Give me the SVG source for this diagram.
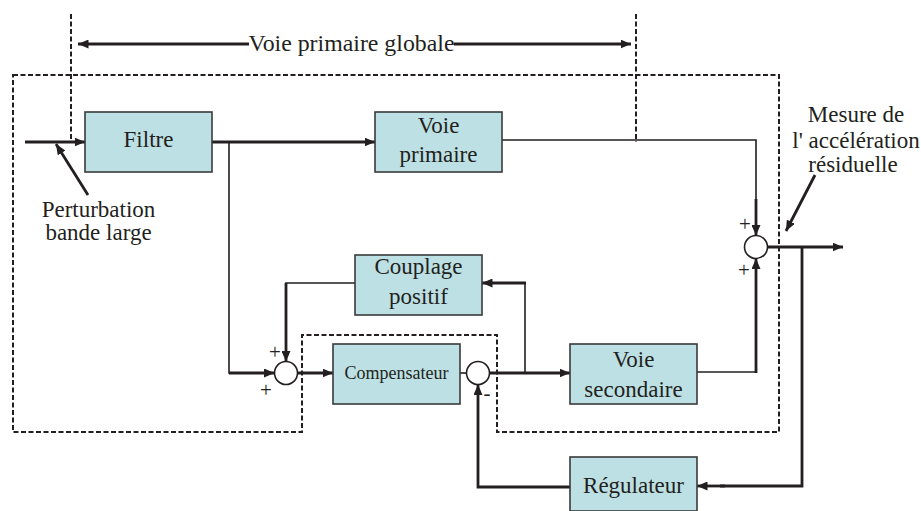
<svg xmlns="http://www.w3.org/2000/svg" width="921" height="511" viewBox="0 0 921 511">
  <defs>
    <marker id="arrow" markerUnits="userSpaceOnUse" markerWidth="11" markerHeight="9" refX="10.5" refY="4.5" orient="auto">
      <path d="M0,0 L10.5,4.5 L0,9 z" fill="#231f20"/>
    </marker>
    <style>
      .box { fill: #bce0e3; stroke: #3a3a3a; stroke-width: 1.6; }
      .lbl { font-family: "Liberation Serif", "Times New Roman", serif; font-size: 23px; fill: #231f20; text-anchor: middle; }
      .small { font-size: 18px; }
      .sign { font-family: "Liberation Serif", "Times New Roman", serif; font-size: 21px; fill: #231f20; text-anchor: middle; }
      .thin { fill: none; stroke: #231f20; stroke-width: 1.6; }
      .thick { fill: none; stroke: #231f20; stroke-width: 2.8; }
      .dash { fill: none; stroke: #231f20; stroke-width: 2; stroke-dasharray: 5 2.5; }
      .sum { fill: #ffffff; stroke: #231f20; stroke-width: 1.6; }
    </style>
  </defs>
  <rect width="921" height="511" fill="#ffffff"/>

  <!-- dashed boundaries -->
  <g id="boundaries">
    <line class="dash" x1="71" y1="14" x2="71" y2="142"/>
    <line class="dash" x1="636" y1="14" x2="636" y2="142"/>
    <path class="dash" d="M13,75 H779 V432 H497 V335 H302 V432 H13 Z"/>
  </g>

  <!-- global primary path span -->
  <g id="span">
    <line class="thick" x1="249" y1="44" x2="78" y2="44" marker-end="url(#arrow)"/>
    <line class="thick" x1="454" y1="44" x2="631" y2="44" marker-end="url(#arrow)"/>
    <text class="lbl" x="351.5" y="51" textLength="206" lengthAdjust="spacingAndGlyphs">Voie primaire globale</text>
  </g>

  <!-- connectors -->
  <g id="connectors">
    <line class="thick" x1="25" y1="142" x2="85" y2="142" marker-end="url(#arrow)"/>
    <line class="thick" x1="88" y1="195" x2="56" y2="144" marker-end="url(#arrow)"/>
    <line class="thick" x1="212" y1="142" x2="375" y2="142" marker-end="url(#arrow)"/>
    <polyline class="thin" points="229,142 229,373 250,373"/>
    <line class="thick" x1="229" y1="373" x2="274.5" y2="373" marker-end="url(#arrow)"/>
    <polyline class="thin" points="502,140 756,140 756,200"/>
    <line class="thick" x1="756" y1="199" x2="756" y2="235.5" marker-end="url(#arrow)"/>
    <polyline class="thin" points="697,372 756,372"/>
    <line class="thick" x1="756" y1="373" x2="756" y2="258.5" marker-end="url(#arrow)"/>
    <line class="thick" x1="767.5" y1="247" x2="843" y2="247" marker-end="url(#arrow)"/>
    <polyline class="thick" points="802,247 802,486 720,486"/>
    <line class="thick" x1="725" y1="486" x2="697" y2="486" marker-end="url(#arrow)"/>
    <line class="thick" x1="815" y1="175" x2="786" y2="231" marker-end="url(#arrow)"/>
    <polyline class="thick" points="570,487 478,487 478,384.5" marker-end="url(#arrow)"/>
    <line class="thin" x1="460" y1="373" x2="466.5" y2="373"/>
    <line class="thick" x1="489.5" y1="373" x2="570" y2="373" marker-end="url(#arrow)"/>
    <polyline class="thin" points="525,373 525,283"/>
    <line class="thick" x1="526" y1="283" x2="482" y2="283" marker-end="url(#arrow)"/>
    <polyline class="thin" points="355,283 286,283 286,300"/>
    <line class="thick" x1="286" y1="283" x2="286" y2="361.5" marker-end="url(#arrow)"/>
    <line class="thick" x1="297.5" y1="373" x2="333" y2="373" marker-end="url(#arrow)"/>
  </g>

  <!-- blocks -->
  <g id="filtre">
    <rect class="box" x="85" y="112" width="127" height="60"/>
    <text class="lbl" x="148.5" y="147">Filtre</text>
  </g>
  <g id="voie-primaire">
    <rect class="box" x="375" y="112" width="127" height="60"/>
    <text class="lbl" x="438.5" y="133">Voie</text>
    <text class="lbl" x="438.5" y="162">primaire</text>
  </g>
  <g id="couplage">
    <rect class="box" x="355" y="255" width="127" height="60"/>
    <text class="lbl" x="418.5" y="274">Couplage</text>
    <text class="lbl" x="418.5" y="304">positif</text>
  </g>
  <g id="compensateur">
    <rect class="box" x="333" y="344" width="127" height="60"/>
    <text class="lbl small" x="396.5" y="379">Compensateur</text>
  </g>
  <g id="voie-secondaire">
    <rect class="box" x="570" y="344" width="127" height="60"/>
    <text class="lbl" x="633.5" y="367">Voie</text>
    <text class="lbl" x="633.5" y="397">secondaire</text>
  </g>
  <g id="regulateur">
    <rect class="box" x="570" y="457" width="127" height="54"/>
    <text class="lbl" x="633.5" y="493">Régulateur</text>
  </g>

  <!-- summing junctions -->
  <g id="sum-left">
    <circle class="sum" cx="286" cy="373" r="11.5"/>
    <text class="sign" x="275" y="359">+</text>
    <text class="sign" x="266" y="397">+</text>
  </g>
  <g id="sum-comp">
    <circle class="sum" cx="478" cy="373" r="11.5"/>
    <text class="sign" x="487" y="400">-</text>
  </g>
  <g id="sum-right">
    <circle class="sum" cx="756" cy="247" r="11.5"/>
    <text class="sign" x="745" y="231">+</text>
    <text class="sign" x="744" y="277">+</text>
  </g>

  <!-- free labels -->
  <g id="labels">
    <text class="lbl" x="98.5" y="217">Perturbation</text>
    <text class="lbl" x="98.5" y="240">bande large</text>
    <text class="lbl" x="856" y="122">Mesure de</text>
    <text class="lbl" x="856" y="148">l' accélération</text>
    <text class="lbl" x="853" y="172">résiduelle</text>
  </g>
</svg>
